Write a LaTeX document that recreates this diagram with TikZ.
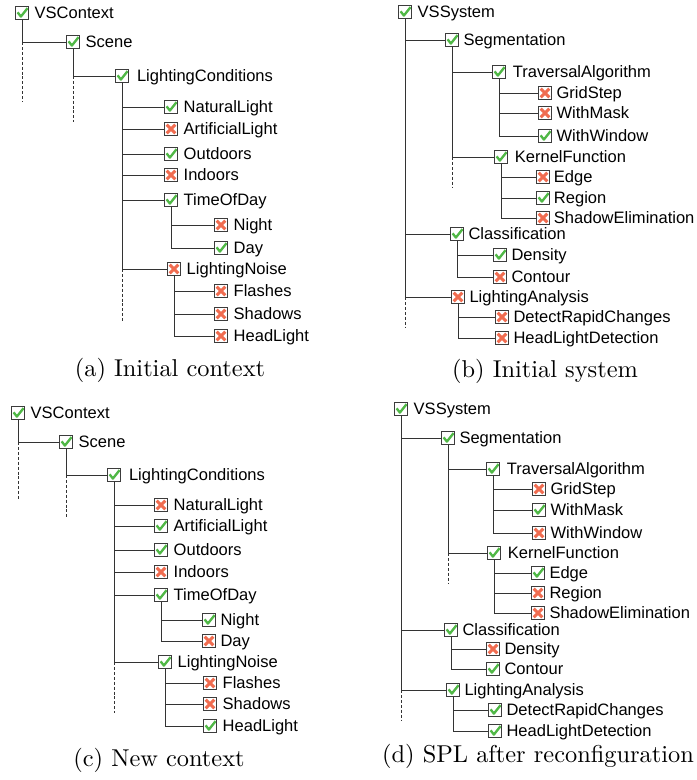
\documentclass[tikz,border=0pt]{standalone}
\usepackage{fontspec}
\usepackage{xcolor}
\usepackage{tikz}
\usetikzlibrary{positioning}
\newfontfamily\lsans{Liberation Sans}
\newfontfamily\capfont[Extension=.otf]{lmroman10-regular}
\definecolor{okgreen}{RGB}{80,184,70}
\definecolor{nored}{RGB}{240,108,80}
\definecolor{boxgray}{RGB}{60,60,60}

\begin{document}
\begin{tikzpicture}[x=0.03cm, y=-0.03cm,
  feat/.style={draw=boxgray, fill=white, line width=0.8pt, minimum size=10.5pt, inner sep=0pt},
  featon/.style={feat, path picture={\draw[okgreen, line width=2pt, line join=round]
      ([shift={(1.5pt,5.8pt)}]path picture bounding box.south west)
      -- ([shift={(4.3pt,2.2pt)}]path picture bounding box.south west)
      -- ([shift={(10pt,9.4pt)}]path picture bounding box.south west);}},
  featoff/.style={feat, path picture={\draw[nored, line width=2.6pt]
      ([shift={(1.6pt,1.6pt)}]path picture bounding box.south west) -- ([shift={(8.9pt,8.9pt)}]path picture bounding box.south west)
      ([shift={(1.6pt,8.9pt)}]path picture bounding box.south west) -- ([shift={(8.9pt,1.6pt)}]path picture bounding box.south west);}},
  txt/.style={font=\lsans\fontsize{14.1}{17}\selectfont, inner sep=0pt, text height=10.1pt, text depth=0pt},
  branch/.style={draw=black!80, line width=0.8pt},
  dashline/.style={branch, dash pattern=on 2.6pt off 1.6pt},
  captxt/.style={font=\capfont\fontsize{20.8}{25}\selectfont, inner sep=0pt}]
            \useasboundingbox (0,0) rectangle (696,780);
            %(a) 绘制初始上下文的根与上层节点
            \node[featon] (a-root) at (22,13) {};
            \node[txt, right=5pt of a-root] (a-root-t) {VSContext};
            \node[featon] (a-scene) at (73,42) {};
            \node[txt, right=5pt of a-scene] (a-scene-t) {Scene};
            \node[featon] (a-lc) at (122,76) {};
            \node[txt, right=7pt of a-lc] (a-lc-t) {LightingConditions};
            \draw[branch] (a-root.south) |- (a-scene.west);
            \draw[branch] (a-scene.south) |- (a-lc.west);
            %(a) 绘制LightingConditions的子节点
            \foreach \n/\x/\y/\s/\t in {nl/171/107/featon/NaturalLight, al/171/129/featoff/ArtificialLight,
                out/171/154/featon/Outdoors, in/171/175/featoff/Indoors, tod/171/200/featon/TimeOfDay,
                ln/174/269/featoff/LightingNoise}{
                \node[\s] (a-\n) at (\x,\y) {};
                \node[txt, right=5pt of a-\n] (a-\n-t) {\t};
                \draw[branch] (a-lc.south) |- (a-\n.west);}
            %(a) 绘制TimeOfDay与LightingNoise的子节点
            \foreach \n/\y/\s/\t in {night/225/featoff/Night, day/248/featon/Day}{
                \node[\s] (a-\n) at (221,\y) {};
                \node[txt, right=5pt of a-\n] (a-\n-t) {\t};
                \draw[branch] (a-tod.south) |- (a-\n.west);}
            \foreach \n/\y/\s/\t in {fl/291/featoff/Flashes, sh/314/featoff/Shadows, hl/336/featoff/HeadLight}{
                \node[\s] (a-\n) at (221,\y) {};
                \node[txt, right=5pt of a-\n] (a-\n-t) {\t};
                \draw[branch] (a-ln.south) |- (a-\n.west);}
            %(a) 绘制虚线与标题
            \coordinate (a-rootend) at (22,102);
            \coordinate (a-sceneend) at (73,122);
            \coordinate (a-lcend) at (122,322);
            \draw[dashline] (a-scene.west -| a-root.south) -- (a-rootend);
            \draw[dashline] (a-lc.west -| a-scene.south) -- (a-sceneend);
            \draw[dashline] (a-ln.west -| a-lc.south) -- (a-lcend);
            \node[captxt] (a-cap) at (170,370) {(a) Initial context};

            %(b) 绘制初始系统的根与上层节点
            \node[featon] (b-root) at (405,12) {};
            \node[txt, right=5pt of b-root] (b-root-t) {VSSystem};
            \foreach \n/\x/\y/\s/\t in {seg/452/40/featon/Segmentation, cls/457/234/featon/Classification,
                la/458/297/featoff/LightingAnalysis}{
                \node[\s] (b-\n) at (\x,\y) {};
                \node[txt, right=4pt of b-\n] (b-\n-t) {\t};
                \draw[branch] (b-root.south) |- (b-\n.west);}
            \foreach \n/\x/\y/\s/\t in {ta/499/72/featon/TraversalAlgorithm, kf/501/157/featon/KernelFunction}{
                \node[\s] (b-\n) at (\x,\y) {};
                \node[txt, right=6pt of b-\n] (b-\n-t) {\t};
                \draw[branch] (b-seg.south) |- (b-\n.west);}
            %(b) 绘制叶子节点
            \foreach \n/\y/\s/\t in {gs/93/featoff/GridStep, wm/113/featoff/WithMask, ww/136/featon/WithWindow}{
                \node[\s] (b-\n) at (545,\y) {};
                \node[txt, right=4pt of b-\n] (b-\n-t) {\t};
                \draw[branch] (b-ta.south) |- (b-\n.west);}
            \foreach \n/\y/\s/\t in {edge/177/featoff/Edge, reg/198/featon/Region, se/218/featoff/ShadowElimination}{
                \node[\s] (b-\n) at (543,\y) {};
                \node[txt, right=3.5pt of b-\n] (b-\n-t) {\t};
                \draw[branch] (b-kf.south) |- (b-\n.west);}
            \foreach \n/\y/\s/\t in {den/255/featon/Density, con/277/featoff/Contour}{
                \node[\s] (b-\n) at (500,\y) {};
                \node[txt, right=4pt of b-\n] (b-\n-t) {\t};
                \draw[branch] (b-cls.south) |- (b-\n.west);}
            \foreach \n/\y/\s/\t in {drc/317/featoff/DetectRapidChanges, hld/338/featoff/HeadLightDetection}{
                \node[\s] (b-\n) at (502,\y) {};
                \node[txt, right=4pt of b-\n] (b-\n-t) {\t};
                \draw[branch] (b-la.south) |- (b-\n.west);}
            %(b) 绘制虚线与标题
            \coordinate (b-rootend) at (405,327);
            \coordinate (b-segend) at (452,188);
            \draw[dashline] (b-la.west -| b-root.south) -- (b-rootend);
            \draw[dashline] (b-kf.west -| b-seg.south) -- (b-segend);
            \node[captxt] (b-cap) at (545,371) {(b) Initial system};

            %(c) 绘制新上下文的根与上层节点
            \node[featon] (c-root) at (18,413) {};
            \node[txt, right=5pt of c-root] (c-root-t) {VSContext};
            \node[featon] (c-scene) at (66,442) {};
            \node[txt, right=5pt of c-scene] (c-scene-t) {Scene};
            \node[featon] (c-lc) at (114,475) {};
            \node[txt, right=7pt of c-lc] (c-lc-t) {LightingConditions};
            \draw[branch] (c-root.south) |- (c-scene.west);
            \draw[branch] (c-scene.south) |- (c-lc.west);
            %(c) 绘制LightingConditions的子节点
            \foreach \n/\x/\y/\s/\t in {nl/161/505/featoff/NaturalLight, al/161/526/featon/ArtificialLight,
                out/161/550/featon/Outdoors, in/161/572/featoff/Indoors, tod/161/595/featon/TimeOfDay,
                ln/165/662/featon/LightingNoise}{
                \node[\s] (c-\n) at (\x,\y) {};
                \node[txt, right=5pt of c-\n] (c-\n-t) {\t};
                \draw[branch] (c-lc.south) |- (c-\n.west);}
            %(c) 绘制TimeOfDay与LightingNoise的子节点
            \foreach \n/\y/\s/\t in {night/620/featon/Night, day/641/featoff/Day}{
                \node[\s] (c-\n) at (209,\y) {};
                \node[txt, right=4pt of c-\n] (c-\n-t) {\t};
                \draw[branch] (c-tod.south) |- (c-\n.west);}
            \foreach \n/\y/\s/\t in {fl/683/featoff/Flashes, sh/704/featoff/Shadows, hl/726/featon/HeadLight}{
                \node[\s] (c-\n) at (210,\y) {};
                \node[txt, right=5pt of c-\n] (c-\n-t) {\t};
                \draw[branch] (c-ln.south) |- (c-\n.west);}
            %(c) 绘制虚线与标题
            \coordinate (c-rootend) at (18,499);
            \coordinate (c-sceneend) at (66,519);
            \coordinate (c-lcend) at (114,713);
            \draw[dashline] (c-scene.west -| c-root.south) -- (c-rootend);
            \draw[dashline] (c-lc.west -| c-scene.south) -- (c-sceneend);
            \draw[dashline] (c-ln.west -| c-lc.south) -- (c-lcend);
            \node[captxt] (c-cap) at (159,760) {(c) New context};

            %(d) 绘制重配置后系统的根与上层节点
            \node[featon] (d-root) at (401,409) {};
            \node[txt, right=5pt of d-root] (d-root-t) {VSSystem};
            \foreach \n/\x/\y/\s/\t in {seg/448/438/featon/Segmentation, cls/451/630/featon/Classification,
                la/453/690/featon/LightingAnalysis}{
                \node[\s] (d-\n) at (\x,\y) {};
                \node[txt, right=4pt of d-\n] (d-\n-t) {\t};
                \draw[branch] (d-root.south) |- (d-\n.west);}
            \foreach \n/\x/\y/\s/\t in {ta/493/469/featon/TraversalAlgorithm, kf/494/553/featon/KernelFunction}{
                \node[\s] (d-\n) at (\x,\y) {};
                \node[txt, right=6pt of d-\n] (d-\n-t) {\t};
                \draw[branch] (d-seg.south) |- (d-\n.west);}
            %(d) 绘制叶子节点
            \foreach \n/\y/\s/\t in {gs/489/featoff/GridStep, wm/510/featon/WithMask, ww/533/featoff/WithWindow}{
                \node[\s] (d-\n) at (539,\y) {};
                \node[txt, right=4pt of d-\n] (d-\n-t) {\t};
                \draw[branch] (d-ta.south) |- (d-\n.west);}
            \foreach \n/\y/\s/\t in {edge/573/featon/Edge, reg/593/featoff/Region, se/613/featoff/ShadowElimination}{
                \node[\s] (d-\n) at (538,\y) {};
                \node[txt, right=4pt of d-\n] (d-\n-t) {\t};
                \draw[branch] (d-kf.south) |- (d-\n.west);}
            \foreach \n/\y/\s/\t in {den/649/featoff/Density, con/669/featon/Contour}{
                \node[\s] (d-\n) at (493,\y) {};
                \node[txt, right=4pt of d-\n] (d-\n-t) {\t};
                \draw[branch] (d-cls.south) |- (d-\n.west);}
            \foreach \n/\y/\s/\t in {drc/710/featon/DetectRapidChanges, hld/731/featon/HeadLightDetection}{
                \node[\s] (d-\n) at (495,\y) {};
                \node[txt, right=4pt of d-\n] (d-\n-t) {\t};
                \draw[branch] (d-la.south) |- (d-\n.west);}
            %(d) 绘制虚线与标题
            \coordinate (d-rootend) at (401,720);
            \coordinate (d-segend) at (448,583);
            \draw[dashline] (d-la.west -| d-root.south) -- (d-rootend);
            \draw[dashline] (d-kf.west -| d-seg.south) -- (d-segend);
            \node[captxt] (d-cap) at (538,756) {(d) SPL after reconfiguration};
        \end{tikzpicture}
\end{document}
